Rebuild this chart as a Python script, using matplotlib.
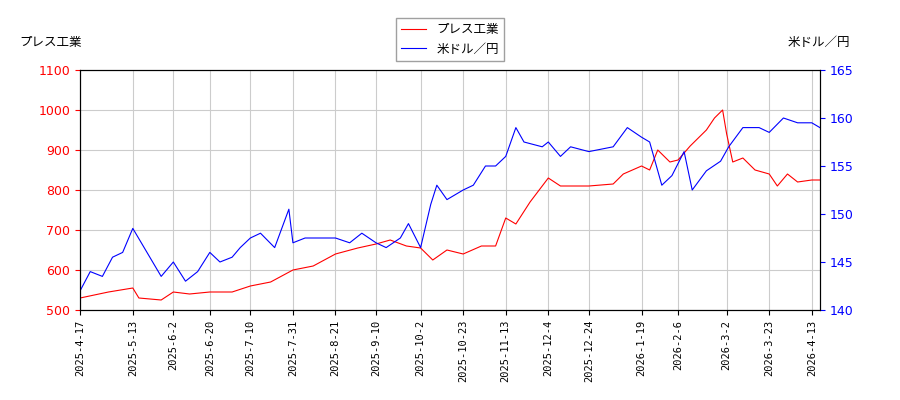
import matplotlib
matplotlib.use("Agg")
import matplotlib.pyplot as plt
import pandas as pd

plt.rcParams['font.family'] = ['Noto Sans CJK JP', 'DejaVu Sans']

red_dates = ["2025-04-17","2025-05-01","2025-05-13","2025-05-16","2025-05-27","2025-06-02","2025-06-10",
             "2025-06-20","2025-07-01","2025-07-10","2025-07-20","2025-07-31","2025-08-10","2025-08-21",
             "2025-09-01","2025-09-10","2025-09-17","2025-09-25","2025-10-02","2025-10-08","2025-10-15",
             "2025-10-23","2025-11-01","2025-11-08","2025-11-13","2025-11-18","2025-11-25","2025-12-01",
             "2025-12-04","2025-12-10","2025-12-24","2026-01-05","2026-01-10","2026-01-19","2026-01-23",
             "2026-01-27","2026-02-02","2026-02-06","2026-02-12","2026-02-20","2026-02-24","2026-02-28",
             "2026-03-02","2026-03-05","2026-03-10","2026-03-16","2026-03-23","2026-03-27","2026-04-01",
             "2026-04-06","2026-04-13","2026-04-17"]
red_vals = [530,545,555,530,525,545,540,545,545,560,570,600,610,640,655,665,675,660,655,625,650,
            640,660,660,730,715,770,810,830,810,810,815,840,860,850,900,870,875,910,950,980,1000,
            940,870,880,850,840,810,840,820,825,825]

blue_dates = ["2025-04-17","2025-04-22","2025-04-28","2025-05-03","2025-05-08","2025-05-13","2025-05-20",
              "2025-05-27","2025-06-02","2025-06-08","2025-06-14","2025-06-20","2025-06-25","2025-07-01",
              "2025-07-05","2025-07-10","2025-07-15","2025-07-22","2025-07-29","2025-07-31","2025-08-06",
              "2025-08-14","2025-08-21","2025-08-28","2025-09-03","2025-09-10","2025-09-15","2025-09-22",
              "2025-09-26","2025-10-02","2025-10-07","2025-10-10","2025-10-15","2025-10-23","2025-10-28",
              "2025-11-03","2025-11-08","2025-11-13","2025-11-18","2025-11-22","2025-12-01","2025-12-04",
              "2025-12-10","2025-12-15","2025-12-24","2026-01-05","2026-01-12","2026-01-19","2026-01-23",
              "2026-01-29","2026-02-03","2026-02-09","2026-02-13","2026-02-20","2026-02-27","2026-03-03",
              "2026-03-10","2026-03-18","2026-03-23","2026-03-30","2026-04-06","2026-04-13","2026-04-17"]
blue_vals = [142,144,143.5,145.5,146,148.5,146,143.5,145,143,144,146,145,145.5,146.5,147.5,148,146.5,
             150.5,147,147.5,147.5,147.5,147,148,147,146.5,147.5,149,146.5,151,153,151.5,152.5,153,
             155,155,156,159,157.5,157,157.5,156,157,156.5,157,159,158,157.5,153,154,156.5,152.5,
             154.5,155.5,157,159,159,158.5,160,159.5,159.5,159]

ticks = ["2025-04-17","2025-05-13","2025-06-02","2025-06-20","2025-07-10","2025-07-31","2025-08-21",
         "2025-09-10","2025-10-02","2025-10-23","2025-11-13","2025-12-04","2025-12-24","2026-01-19",
         "2026-02-06","2026-03-02","2026-03-23","2026-04-13"]

rd = pd.to_datetime(red_dates)
bd = pd.to_datetime(blue_dates)
td = pd.to_datetime(ticks)

fig = plt.figure(figsize=(9, 4), dpi=100)
ax = fig.add_axes([0.089, 0.225, 0.822, 0.6])
ax2 = ax.twinx()
l1, = ax.plot(rd, red_vals, color="red", lw=0.8, label="プレス工業")
l2, = ax2.plot(bd, blue_vals, color="blue", lw=0.8, label="米ドル／円")
ax.set_ylim(500, 1100)
ax2.set_ylim(140, 165)
ax.set_xlim(rd[0], rd[-1])
ax.set_xticks(td)
ax.set_xticklabels([f"{d.year}-{d.month}-{d.day}" for d in td], rotation=90, fontsize=7.5,
                   family="DejaVu Sans Mono")
for t in ax.get_yticklabels() + ax2.get_yticklabels():
    t.set_family("DejaVu Sans")
ax.tick_params(axis='y', labelsize=9, colors='red')
ax2.tick_params(axis='y', labelsize=9, colors='blue')
ax.grid(True, color="#cccccc", lw=0.8)
fig.text(0.022, 0.885, "プレス工業", fontsize=9)
fig.text(0.945, 0.885, "米ドル／円", fontsize=9, ha="right")
fig.legend(handles=[l1, l2], loc="upper center", bbox_to_anchor=(0.5, 0.97), fontsize=9,
           fancybox=False, edgecolor="#888888")
fig.savefig("out.png")
